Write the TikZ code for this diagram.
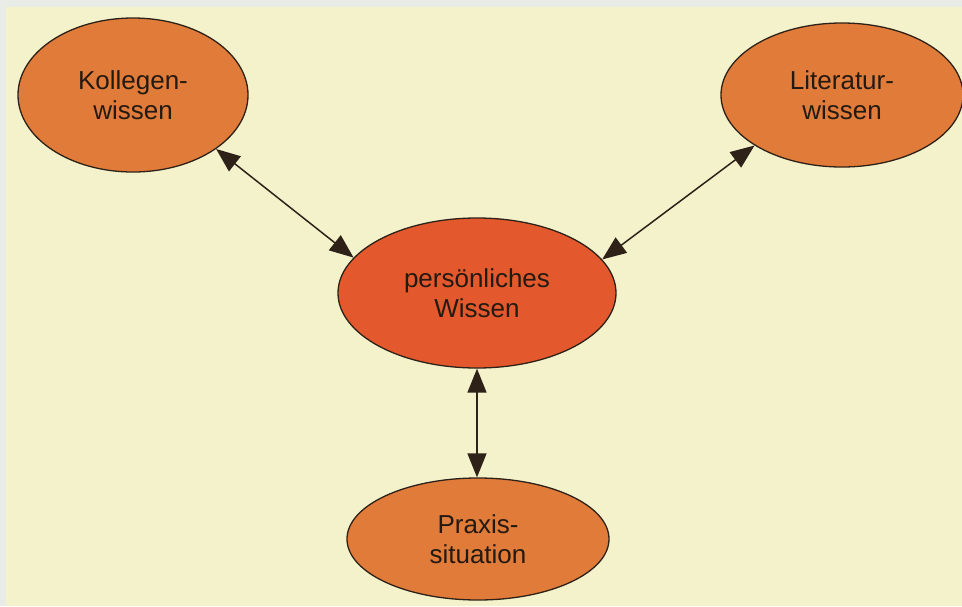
\documentclass[tikz,border=0pt]{standalone}
\usepackage{fontspec}
\setmainfont{Liberation Sans}
\usetikzlibrary{shapes.geometric,arrows.meta}
\definecolor{bgtop}{HTML}{E9ECE6}
\definecolor{bgfill}{HTML}{F3F2CB}
\definecolor{orangeA}{HTML}{E07B3A}
\definecolor{orangeB}{HTML}{E3592D}
\definecolor{outline}{HTML}{2E2218}
\definecolor{txt}{HTML}{231A12}
\begin{document}
\begin{tikzpicture}[x=1pt,y=-1pt,
  blob/.style={ellipse,draw=outline,line width=1.3pt,fill=orangeA,inner sep=0pt,
    text=txt,align=center,font=\fontsize{26}{30}\selectfont},
  link/.style={draw=outline,line width=1.5pt,{Triangle[length=24pt,width=19pt]}-{Triangle[length=24pt,width=19pt]}}]
\useasboundingbox (0,0) rectangle (962,606);
\fill[bgtop] (0,0) rectangle (962,606);
\fill[bgfill] (6,7) rectangle (962,606);
\node[blob,minimum width=230pt,minimum height=154pt] (kol) at (133,95) {Kollegen-\\wissen};
\node[blob,minimum width=242pt,minimum height=144pt] (lit) at (842,95) {Literatur-\\wissen};
\node[blob,fill=orangeB,minimum width=278pt,minimum height=150pt] (per) at (477,293) {persönliches\\Wissen};
\node[blob,minimum width=262pt,minimum height=122pt] (pra) at (478,539) {Praxis-\\situation};
\draw[link] (kol.-33.85) -- (per.164.8);
\draw[link] (lit.210.9) -- (per.15.6);
\draw[link] (per.south) -- (per.south |- pra.north);
\end{tikzpicture}
\end{document}
